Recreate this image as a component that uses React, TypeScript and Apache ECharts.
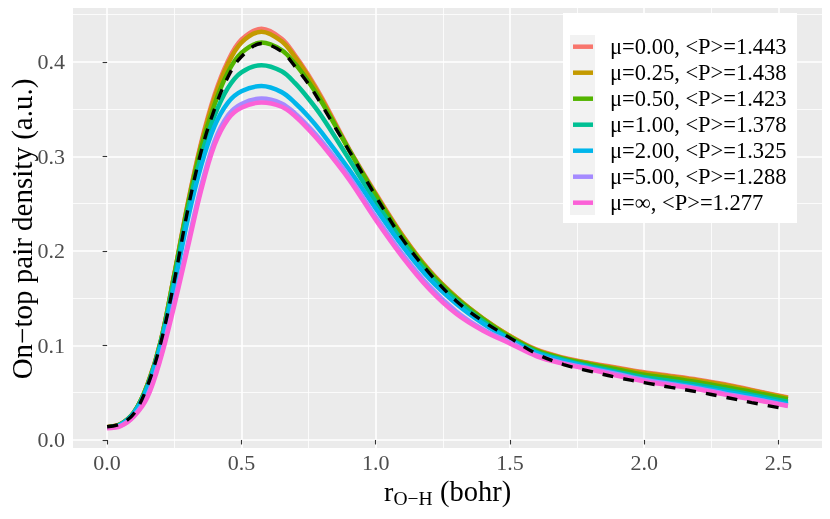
import React, { useEffect, useRef } from "react";
import * as echarts from "echarts";

// r_{O-H} grid (bohr)
const xs = [0, 0.05, 0.1, 0.15, 0.2, 0.25, 0.3, 0.35, 0.4, 0.45, 0.5, 0.575, 0.65, 0.7, 0.75, 0.8, 0.9, 1.0, 1.1, 1.2, 1.3, 1.4, 1.5, 1.6, 1.7, 1.8, 1.9, 2.0, 2.1, 2.2, 2.3, 2.4, 2.535];

const mu000 = [0.0135, 0.0168, 0.0293, 0.0585, 0.105, 0.175, 0.25, 0.3145, 0.365, 0.401, 0.4235, 0.435, 0.4245, 0.407, 0.386, 0.362, 0.3085, 0.261, 0.2165, 0.1795, 0.151, 0.1285, 0.11, 0.0955, 0.087, 0.0813, 0.0765, 0.0716, 0.0678, 0.0638, 0.059, 0.053, 0.045];
const mu025 = [0.0135, 0.0168, 0.0293, 0.0585, 0.105, 0.175, 0.249, 0.3125, 0.362, 0.398, 0.4205, 0.432, 0.4218, 0.405, 0.384, 0.36, 0.3075, 0.26, 0.216, 0.179, 0.151, 0.1285, 0.11, 0.095, 0.0865, 0.0808, 0.0757, 0.0708, 0.067, 0.063, 0.0582, 0.0524, 0.0445];
const mu050 = [0.0135, 0.0167, 0.0292, 0.058, 0.1045, 0.174, 0.247, 0.309, 0.355, 0.389, 0.4095, 0.4205, 0.4125, 0.398, 0.379, 0.357, 0.3075, 0.259, 0.2145, 0.178, 0.15, 0.128, 0.109, 0.0945, 0.086, 0.08, 0.0745, 0.069, 0.0652, 0.061, 0.056, 0.0508, 0.043];
const mu100 = [0.0133, 0.0165, 0.029, 0.057, 0.1035, 0.17, 0.242, 0.3, 0.343, 0.3725, 0.389, 0.3965, 0.39, 0.3775, 0.361, 0.342, 0.2975, 0.252, 0.21, 0.1745, 0.1475, 0.1255, 0.107, 0.093, 0.0848, 0.078, 0.072, 0.0663, 0.0625, 0.0583, 0.0535, 0.048, 0.0405];
const mu200 = [0.0132, 0.0162, 0.0285, 0.055, 0.1, 0.163, 0.233, 0.29, 0.332, 0.357, 0.369, 0.3745, 0.368, 0.3565, 0.342, 0.325, 0.2865, 0.245, 0.205, 0.1705, 0.144, 0.123, 0.106, 0.092, 0.0835, 0.0765, 0.0705, 0.0642, 0.06, 0.0558, 0.051, 0.046, 0.038];
const mu500 = [0.013, 0.015, 0.0255, 0.047, 0.089, 0.146, 0.207, 0.268, 0.316, 0.3435, 0.3555, 0.3612, 0.356, 0.3455, 0.3315, 0.3155, 0.279, 0.236, 0.1965, 0.1625, 0.136, 0.117, 0.1035, 0.0895, 0.0813, 0.0755, 0.0695, 0.0635, 0.059, 0.0545, 0.049, 0.044, 0.0365];
const muInf = [0.0125, 0.0145, 0.0248, 0.045, 0.0865, 0.142, 0.203, 0.264, 0.312, 0.3395, 0.3515, 0.357, 0.3525, 0.3425, 0.3285, 0.3125, 0.276, 0.233, 0.1935, 0.1595, 0.1335, 0.1155, 0.102, 0.0885, 0.0805, 0.0745, 0.068, 0.062, 0.0578, 0.0535, 0.048, 0.043, 0.036];
const reference = [0.014, 0.017, 0.028, 0.057, 0.103, 0.168, 0.243, 0.305, 0.35, 0.384, 0.4055, 0.4195, 0.411, 0.395, 0.3765, 0.354, 0.3065, 0.258, 0.2125, 0.1765, 0.147, 0.1255, 0.108, 0.091, 0.0798, 0.0726, 0.066, 0.0607, 0.0556, 0.0508, 0.0453, 0.0395, 0.0325];

const seriesNames = [
  "μ=0.00, <P>=1.443",
  "μ=0.25, <P>=1.438",
  "μ=0.50, <P>=1.423",
  "μ=1.00, <P>=1.378",
  "μ=2.00, <P>=1.325",
  "μ=5.00, <P>=1.288",
  "μ=∞, <P>=1.277",
];
const seriesValues = [mu000, mu025, mu050, mu100, mu200, mu500, muInf];
const seriesColors = ["#F8766D", "#C49A00", "#53B400", "#00C094", "#00B6EB", "#A58AFF", "#FB61D7"];

const xMajorTicks = [0, 0.5, 1.0, 1.5, 2.0, 2.5];
const xMinorTicks = [0.25, 0.75, 1.25, 1.75, 2.25];
const yMajorTicks = [0, 0.1, 0.2, 0.3, 0.4];
const yMinorTicks = [0.05, 0.15, 0.25, 0.35, 0.45];

export default function App() {
  const ref = useRef<HTMLDivElement>(null);
  useEffect(() => {
    const chart = echarts.init(ref.current!, null, { renderer: "svg" });
    const serif = "'Liberation Serif', 'Times New Roman', serif";
    const xMin = -0.127, xMax = 2.662;
    const yMin = -0.0085, yMax = 0.457;

    const colored = seriesNames.map((name, k) => ({
      name,
      type: "line",
      data: xs.map((x, i) => [x, seriesValues[k][i]]),
      showSymbol: false,
      symbol: "none",
      smooth: 0.35,
      color: seriesColors[k],
      lineStyle: { width: 4.5, color: seriesColors[k] },
      z: 2,
    }));

    const option: any = {
      animation: false,
      grid: { left: 73, right: 8, top: 8, bottom: 71, show: true, backgroundColor: "#EBEBEB", borderWidth: 0 },
      xAxis: [
        {
          type: "value", min: xMin, max: xMax,
          axisLine: { show: false },
          axisTick: { show: true, length: 4.5, lineStyle: { color: "#333333", width: 1.1 }, customValues: xMajorTicks },
          axisLabel: { customValues: xMajorTicks, formatter: (v: number) => v.toFixed(1), color: "#4D4D4D", fontSize: 22, fontFamily: serif, margin: 3 },
          splitLine: { show: true, lineStyle: { color: "#FFFFFF", width: 1.6 } },
        },
        {
          type: "value", min: xMin, max: xMax,
          axisLine: { show: false },
          axisTick: { show: false, customValues: xMinorTicks },
          axisLabel: { show: false },
          splitLine: { show: true, lineStyle: { color: "#FFFFFF", width: 0.8 } },
        },
      ],
      yAxis: [
        {
          type: "value", min: yMin, max: yMax,
          axisLine: { show: false },
          axisTick: { show: true, length: 4.5, lineStyle: { color: "#333333", width: 1.1 }, customValues: yMajorTicks },
          axisLabel: { customValues: yMajorTicks, formatter: (v: number) => v.toFixed(1), color: "#4D4D4D", fontSize: 22, fontFamily: serif, margin: 8 },
          splitLine: { show: true, lineStyle: { color: "#FFFFFF", width: 1.6 } },
        },
        {
          type: "value", min: yMin, max: yMax,
          axisLine: { show: false },
          axisTick: { show: false, customValues: yMinorTicks },
          axisLabel: { show: false },
          splitLine: { show: true, lineStyle: { color: "#FFFFFF", width: 0.8 } },
        },
      ],
      legend: {
        data: seriesNames,
        orient: "vertical",
        left: 573,
        top: 33.7,
        padding: 0,
        itemGap: 0,
        itemWidth: 20,
        itemHeight: 4.5,
        icon: "rect",
        selectedMode: false,
        textStyle: { fontSize: 22.5, fontFamily: serif, color: "#000000", lineHeight: 26, padding: [0, 0, 0, 12] },
        z: 5,
      },
      graphic: [
        { type: "rect", z: 3, silent: true, shape: { x: 563, y: 13, width: 234, height: 210 }, style: { fill: "#FFFFFF" } },
        { type: "rect", z: 3, silent: true, shape: { x: 570, y: 35, width: 25, height: 180 }, style: { fill: "#F2F2F2" } },
        {
          type: "text", z: 3, x: 22, y: 229, rotation: Math.PI / 2,
          style: { text: "On−top pair density (a.u.)", fontSize: 29, fontFamily: serif, fill: "#000000", align: "center", verticalAlign: "middle" },
        },
        { type: "text", z: 3, x: 384, y: 491, style: { text: "r", fontSize: 28, fontFamily: serif, fill: "#000000", align: "left", verticalAlign: "middle" } },
        { type: "text", z: 3, x: 393.5, y: 498, style: { text: "O−H", fontSize: 19.5, fontFamily: serif, fill: "#000000", align: "left", verticalAlign: "middle" } },
        { type: "text", z: 3, x: 440, y: 491, style: { text: "(bohr)", fontSize: 28.5, fontFamily: serif, fill: "#000000", align: "left", verticalAlign: "middle" } },
      ],
      series: [
        ...colored,
        {
          name: "reference",
          type: "line",
          data: xs.map((x, i) => [x, reference[i]]),
          showSymbol: false,
          symbol: "none",
          smooth: 0.35,
          color: "#000000",
          lineStyle: { width: 3.4, color: "#000000", type: [11, 10] },
          z: 2,
        },
      ],
    };
    chart.setOption(option);
    return () => chart.dispose();
  }, []);
  return <div ref={ref} style={{ position: "fixed", left: 0, top: 0, width: 830, height: 519 }} />;
}
